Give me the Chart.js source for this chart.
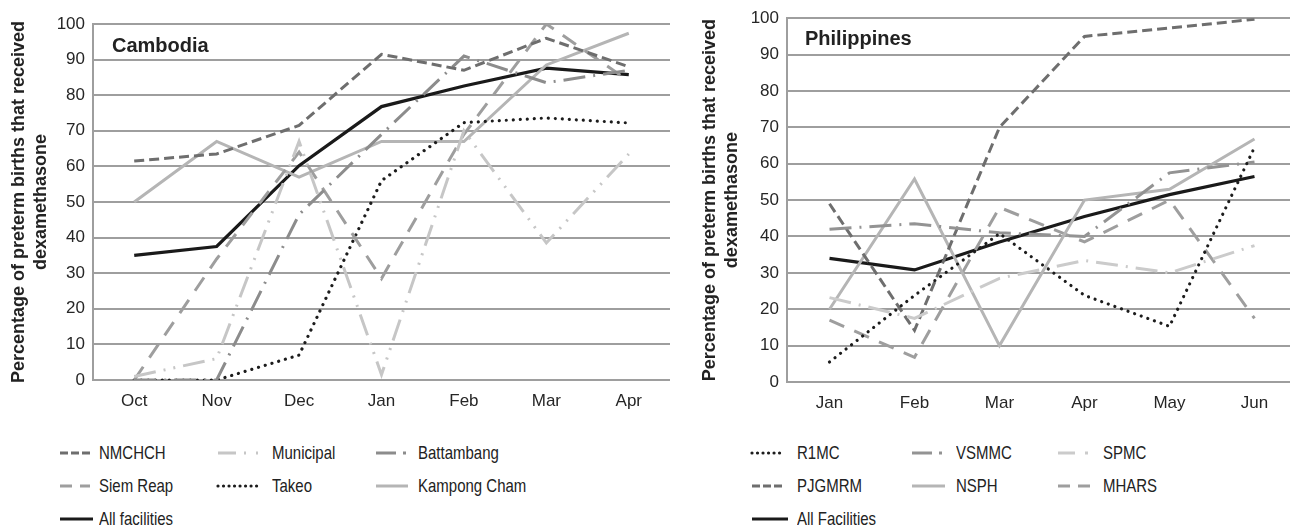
<!DOCTYPE html>
<html><head><meta charset="utf-8">
<script src="https://cdn.jsdelivr.net/npm/chart.js@4.4.0/dist/chart.umd.min.js"></script>
<style>
html,body{margin:0;padding:0;background:#fff;}
body{width:1290px;height:529px;overflow:hidden;position:relative;font-family:"Liberation Sans",Arial,sans-serif;}
#c1{position:absolute;left:0;top:0;}
#c2{position:absolute;left:680px;top:0;}
.ttl{position:absolute;font-weight:bold;font-size:20px;color:#222;line-height:20px;white-space:nowrap;}
.lt{position:absolute;font-size:18.5px;line-height:20px;color:#222;white-space:nowrap;transform:scaleX(0.81);transform-origin:0 50%;}
svg.ls{position:absolute;overflow:visible;}
</style>
</head><body>
<canvas id="c1" width="675" height="420"></canvas>
<canvas id="c2" width="617" height="420"></canvas>
<div class="ttl" style="left:112px;top:35px;">Cambodia</div>
<div class="ttl" style="left:805px;top:28px;">Philippines</div>
<div id="legend"></div>
<script>
// ---- Data ----
const khMonths = ['Oct','Nov','Dec','Jan','Feb','Mar','Apr'];
const khNMCHCH     = [61.5, 63.5, 71.5, 91.5, 87, 96, 88];
const khMunicipal  = [1, 6, 67, 1.5, 70, 38.5, 63.5];
const khBattambang = [0, 0, 46.5, 69, 91, 83.5, 87];
const khSiemReap   = [0, 34, 64, 28.5, 69, 100, 84];
const khTakeo      = [0, 0, 7, 56, 72.3, 73.6, 72.2];
const khKampong    = [50, 67, 57, 67, 67, 88.5, 97.4];
const khAll        = [35, 37.5, 60.2, 76.8, 82.6, 87.6, 85.8];

const phMonths = ['Jan','Feb','Mar','Apr','May','Jun'];
const phR1MC   = [5.5, 23.8, 40.8, 23.8, 15.3, 64.5];
const phVSMMC  = [42, 43.5, 41, 40, 57.5, 60.5];
const phSPMC   = [23.2, 17.5, 28.5, 33.4, 30, 37.5];
const phPJGMRM = [49, 14.2, 70, 95, 97.3, 99.7];
const phNSPH   = [20, 55.8, 10, 50, 53, 66.8];
const phMHARS  = [17, 6.8, 48, 38.5, 50, 17.5];
const phAll    = [34, 30.8, 38.5, 45.5, 51.5, 56.5];

const yTicks = [0,10,20,30,40,50,60,70,80,90,100];
const yTitle = ['Percentage of preterm births that received','dexamethasone'];

// ---- Styles ----
const ST = {
  shortDash: {color:'#6e6e6e', dash:[10,5], w:3, cap:'butt', leg:'8,3'},
  dashDotDot:{color:'#c6c6c6', dash:[22,8,2,8,2,8], w:3, cap:'butt', leg:'18,8,2,10,2,10'},
  dashDot:   {color:'#8c8c8c', dash:[22,8,2,8], w:3, cap:'butt', leg:'20,7,3,10'},
  medDash:   {color:'#9e9e9e', dash:[16,11], w:3, cap:'butt', leg:'12,8'},
  dotted:    {color:'#1c1c1c', dash:[0.01,7], w:3.2, cap:'round', leg:'0.01,5.5'},
  solidLight:{color:'#b5b5b5', dash:[], w:3, cap:'butt', leg:''},
  solidBlack:{color:'#1a1a1a', dash:[], w:3.2, cap:'butt', leg:''},
  vsmmc:     {color:'#939393', dash:[22,8,2,8], w:3, cap:'butt', leg:'20,7,3,10'},
  spmc:      {color:'#cbcbcb', dash:[22,8,2,8], w:3, cap:'butt', leg:'17,10,3,10'}
};

function ds(label, data, st, order){
  return {label, data, borderColor:st.color, borderWidth:st.w, borderDash:st.dash,
    borderCapStyle:st.cap, pointRadius:0, tension:0, fill:false, order:order||1};
}

const khSets = [
  ds('NMCHCH', khNMCHCH, ST.shortDash),
  ds('Municipal', khMunicipal, ST.dashDotDot),
  ds('Battambang', khBattambang, ST.dashDot),
  ds('Siem Reap', khSiemReap, ST.medDash),
  ds('Takeo', khTakeo, ST.dotted),
  ds('Kampong Cham', khKampong, ST.solidLight),
  ds('All facilities', khAll, ST.solidBlack, 0)
];
const phSets = [
  ds('R1MC', phR1MC, ST.dotted),
  ds('VSMMC', phVSMMC, ST.vsmmc),
  ds('SPMC', phSPMC, ST.spmc),
  ds('PJGMRM', phPJGMRM, ST.shortDash),
  ds('NSPH', phNSPH, ST.solidLight),
  ds('MHARS', phMHARS, ST.medDash),
  ds('All Facilities', phAll, ST.solidBlack, 0)
];

const FAM = '"Liberation Sans", Arial, sans-serif';
function opts(padTop, padRight, xH, yW, titlePad){
  return {
    responsive:false, animation:false, devicePixelRatio:1,
    layout:{padding:{top:padTop, right:padRight, bottom:0, left:0}},
    plugins:{legend:{display:false}, tooltip:{enabled:false}},
    scales:{
      x:{offset:true, grid:{display:false, drawTicks:false}, border:{display:false},
         ticks:{font:{size:17, family:FAM}, color:'#262626', padding:11, maxRotation:0, autoSkip:false},
         afterFit(s){ s.height = xH; }},
      y:{min:0, max:100, afterBuildTicks(s){ s.ticks = yTicks.map(v=>({value:v})); },
         grid:{color:'#9e9e9e', lineWidth:2, drawTicks:false},
         border:{display:true, color:'#9e9e9e', width:2},
         ticks:{font:{size:17, family:FAM}, color:'#262626', padding:8},
         title:{display:true, text:yTitle, color:'#222',
                font:{size:18, weight:'bold', family:FAM, lineHeight:1.22},
                padding:{top:titlePad, bottom:0}},
         afterFit(s){ s.width = yW; }}
    }
  };
}

new Chart(document.getElementById('c1'), {type:'line',
  data:{labels:khMonths, datasets:khSets}, options:opts(24, 5, 40, 93, 8)});
new Chart(document.getElementById('c2'), {type:'line',
  data:{labels:phMonths, datasets:phSets}, options:opts(17, 0, 38, 107, 19)});

// ---- Legend (HTML) ----
const legendLayout = [
  {sets:khSets, cols:[[60,90,99],[218,260,272],[376,408,418]]},
  {sets:phSets, cols:[[752,785,797],[912,945,956],[1058,1092,1103]]}
];
const rowsY = [453, 486, 519];
const styleOf = {
  'NMCHCH':ST.shortDash,'Municipal':ST.dashDotDot,'Battambang':ST.dashDot,'Siem Reap':ST.medDash,
  'Takeo':ST.dotted,'Kampong Cham':ST.solidLight,'All facilities':ST.solidBlack,
  'R1MC':ST.dotted,'VSMMC':ST.vsmmc,'SPMC':ST.spmc,'PJGMRM':ST.shortDash,'NSPH':ST.solidLight,
  'MHARS':ST.medDash,'All Facilities':ST.solidBlack
};
const leg = document.getElementById('legend');
legendLayout.forEach(L=>{
  L.sets.forEach((d,i)=>{
    const row = Math.floor(i/3), col = i%3;
    const [x0,x1,tx] = L.cols[col];
    const y = rowsY[row];
    const st = styleOf[d.label];
    const endX = (d.label.startsWith('All')) ? x1+3 : x1;
    const svg = document.createElementNS('http://www.w3.org/2000/svg','svg');
    svg.setAttribute('class','ls');
    svg.setAttribute('width', endX-x0+4); svg.setAttribute('height', 10);
    svg.style.left = (x0-2)+'px'; svg.style.top = (y-5)+'px';
    const ln = document.createElementNS('http://www.w3.org/2000/svg','line');
    ln.setAttribute('x1', 2); ln.setAttribute('x2', endX-x0+2);
    ln.setAttribute('y1', 5); ln.setAttribute('y2', 5);
    ln.setAttribute('stroke', st.color);
    ln.setAttribute('stroke-width', st.label === 'dotted' ? 2.5 : st.w);
    if (st.leg) ln.setAttribute('stroke-dasharray', st.leg);
    ln.setAttribute('stroke-linecap', st.cap);
    svg.appendChild(ln);
    leg.appendChild(svg);
    const t = document.createElement('div');
    t.className = 'lt'; t.textContent = d.label;
    t.style.left = tx+'px'; t.style.top = (y-10)+'px';
    leg.appendChild(t);
  });
});
</script>
</body></html>
